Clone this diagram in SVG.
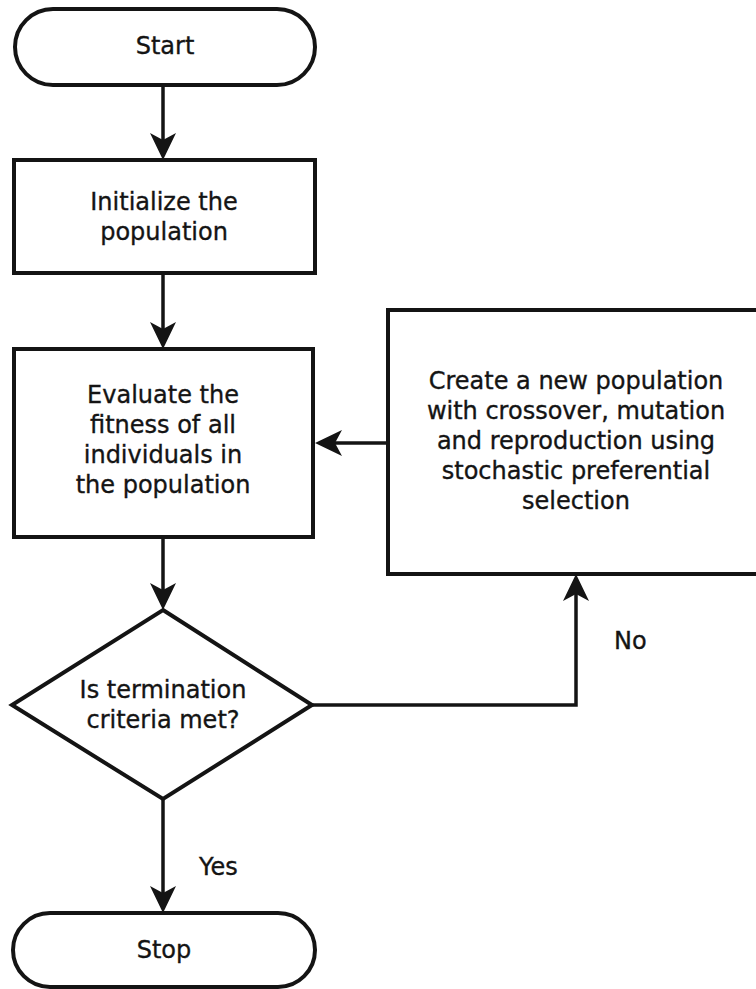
<svg xmlns="http://www.w3.org/2000/svg" width="756" height="989" viewBox="0 0 756 989">
<style>
.shape{fill:#fff;stroke:#141414;stroke-width:4;}
.conn{fill:none;stroke:#141414;stroke-width:3.5;}
text{font-family:"DejaVu Sans","Liberation Sans",sans-serif;font-size:24px;fill:#141414;stroke:#141414;stroke-width:0.35;text-anchor:middle;}
.lbl{text-anchor:start;}
</style>
<defs>
<marker id="arr" markerUnits="userSpaceOnUse" markerWidth="30" markerHeight="30" viewBox="-28 -15 30 30" refX="-10" refY="0" orient="auto" overflow="visible">
<path d="M0,0 L-27,-13 L-20,0 L-27,13 Z" fill="#141414"/>
</marker>
</defs>
<g id="connectors">
<line class="conn" x1="163" y1="86" x2="163" y2="150" marker-end="url(#arr)"/>
<line class="conn" x1="163" y1="273" x2="163" y2="339" marker-end="url(#arr)"/>
<line class="conn" x1="163" y1="537" x2="163" y2="600" marker-end="url(#arr)"/>
<line class="conn" x1="388" y1="443" x2="325" y2="443" marker-end="url(#arr)"/>
<path class="conn" d="M312,705 H576 V584" marker-end="url(#arr)"/>
<line class="conn" x1="163" y1="799" x2="163" y2="903" marker-end="url(#arr)"/>
<text class="lbl" x="614" y="649">No</text>
<text class="lbl" x="199" y="875">Yes</text>
</g>
<g id="start">
<rect class="shape" x="15" y="9" width="300" height="76" rx="38" ry="38"/>
<text x="165" y="54">Start</text>
</g>
<g id="init">
<rect class="shape" x="14" y="160" width="301" height="113"/>
<text x="164" y="210">Initialize the</text>
<text x="164" y="240">population</text>
</g>
<g id="evaluate">
<rect class="shape" x="14" y="349" width="299" height="188"/>
<text x="163" y="403">Evaluate the</text>
<text x="163" y="433">fitness of all</text>
<text x="163" y="463">individuals in</text>
<text x="163" y="493">the population</text>
</g>
<g id="create">
<rect class="shape" x="388" y="310" width="380" height="264"/>
<text x="576" y="389">Create a new population</text>
<text x="576" y="419">with crossover, mutation</text>
<text x="576" y="449">and reproduction using</text>
<text x="576" y="479">stochastic preferential</text>
<text x="576" y="509">selection</text>
</g>
<g id="decision">
<polygon class="shape" points="163,610 312,705 163,799 12,705"/>
<text x="163" y="698">Is termination</text>
<text x="163" y="728">criteria met?</text>
</g>
<g id="stop">
<rect class="shape" x="13" y="913" width="302" height="74" rx="37" ry="37"/>
<text x="164" y="958">Stop</text>
</g>
</svg>
